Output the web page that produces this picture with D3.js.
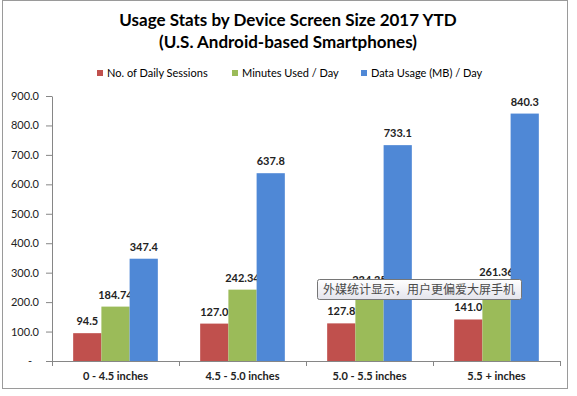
<!DOCTYPE html>
<html>
<head>
<meta charset="utf-8">
<script src="https://cdn.jsdelivr.net/npm/d3@7"></script>
<style>
  html, body { margin: 0; padding: 0; background: #fff; }
  svg { display: block; font-family: Lato, "Open Sans", sans-serif; }
</style>
</head>
<body>
<script>
// chart data
const categories = ["0 - 4.5 inches", "4.5 - 5.0 inches", "5.0 - 5.5 inches", "5.5 + inches"];
const seriesNames = ["No. of Daily Sessions", "Minutes Used / Day", "Data Usage (MB) / Day"];
const dailySessions = [94.5, 127.0, 127.8, 141.0];
const minutesUsed = [184.74, 242.34, 234.35, 261.36];
const dataUsage = [347.4, 637.8, 733.1, 840.3];
const yTicks = [0, 100, 200, 300, 400, 500, 600, 700, 800, 900];
const titleLines = ["Usage Stats by Device Screen Size 2017 YTD", "(U.S. Android-based Smartphones)"];
const tooltipText = "外媒统计显示，用户更偏爱大屏手机";

const W = 577, H = 396;
const colors = ["#C0504D", "#9BBB59", "#4F88D6"];
const formats = [d3.format(".1f"), d3.format(".2f"), d3.format(".1f")];
const series = [dailySessions, minutesUsed, dataUsage];

const svg = d3.select("body").append("svg")
  .attr("width", W).attr("height", H);

// cadre
svg.append("rect")
  .attr("x", 2.5).attr("y", 0.5)
  .attr("width", 565).attr("height", 388)
  .attr("fill", "#fff").attr("stroke", "#9a9a9a");

// titre
svg.append("g").selectAll("text")
  .data(titleLines)
  .join("text")
  .attr("x", 288).attr("y", (d, i) => 26 + i * 22)
  .attr("text-anchor", "middle")
  .attr("font-size", 17).attr("font-weight", "bold")
  .attr("fill", "#000")
  .text(d => d);

// légende
const legendX = [97, 232, 361];
const legend = svg.append("g").selectAll("g")
  .data(seriesNames)
  .join("g")
  .attr("transform", (d, i) => `translate(${legendX[i]},73)`);
legend.append("rect")
  .attr("x", 0).attr("y", -3).attr("width", 6).attr("height", 6)
  .attr("fill", (d, i) => colors[i]);
legend.append("text")
  .attr("x", 10).attr("y", 4)
  .attr("font-size", 11).attr("fill", "#000")
  .text(d => d);

// échelles
const x = d3.scaleBand().domain(categories).range([52, 560]);
const xs = d3.scaleBand().domain(d3.range(3)).range([0, x.bandwidth()]).paddingOuter(0.75);
const y = d3.scaleLinear().domain([0, 900]).range([361, 96]);

// axe Y
const yAxis = svg.append("g")
  .attr("transform", "translate(52,0)")
  .call(d3.axisLeft(y).tickValues(yTicks).tickSize(6).tickPadding(7).tickSizeOuter(0)
    .tickFormat(d => d === 0 ? "-" : d3.format(".1f")(d)));
yAxis.select(".domain").attr("stroke", "#868686");
yAxis.selectAll(".tick line").attr("stroke", "#868686");
yAxis.selectAll("text").attr("font-size", 11).attr("fill", "#222")
  .attr("font-family", "Lato, sans-serif");
yAxis.selectAll(".tick").filter(d => d === 0).select("text").attr("dx", -7);

// barres
const groups = svg.append("g").selectAll("g")
  .data(categories)
  .join("g")
  .attr("transform", d => `translate(${x(d)},0)`);

series.forEach((vals, s) => {
  groups.append("rect")
    .attr("x", xs(s)).attr("width", xs.bandwidth())
    .attr("y", (d, i) => y(vals[i]))
    .attr("height", (d, i) => y(0) - y(vals[i]))
    .attr("fill", colors[s]);
  groups.append("text")
    .attr("x", xs(s) + xs.bandwidth() / 2)
    .attr("y", (d, i) => y(vals[i]) - 8)
    .attr("text-anchor", "middle")
    .attr("font-size", 11).attr("font-weight", "bold")
    .attr("fill", "#222")
    .text((d, i) => formats[s](vals[i]));
});

// axe X
const xAxis = svg.append("g");
xAxis.append("line")
  .attr("x1", 48).attr("x2", 560).attr("y1", 361.5).attr("y2", 361.5)
  .attr("stroke", "#868686");
const bounds = categories.map(c => x(c)).concat([x.range()[1]]);
xAxis.selectAll("line.tk")
  .data(bounds)
  .join("line").attr("class", "tk")
  .attr("x1", d => Math.round(d) + 0.5).attr("x2", d => Math.round(d) + 0.5)
  .attr("y1", 361).attr("y2", 366)
  .attr("stroke", "#868686");
xAxis.selectAll("text")
  .data(categories)
  .join("text")
  .attr("x", d => x(d) + x.bandwidth() / 2)
  .attr("y", 380)
  .attr("text-anchor", "middle")
  .attr("font-size", 11).attr("font-weight", "bold")
  .attr("fill", "#222")
  .text(d => d);

// info-bulle
const tip = svg.append("g").attr("transform", "translate(317,279)");
const grad = svg.append("defs").append("linearGradient")
  .attr("id", "tipgrad").attr("x1", 0).attr("x2", 0).attr("y1", 0).attr("y2", 1);
grad.append("stop").attr("offset", "0%").attr("stop-color", "#ffffff");
grad.append("stop").attr("offset", "100%").attr("stop-color", "#e4e4ec");
tip.append("rect")
  .attr("x", 0.5).attr("y", 0.5).attr("width", 204).attr("height", 20).attr("rx", 2)
  .attr("fill", "url(#tipgrad)").attr("stroke", "#767676");
tip.append("text")
  .attr("x", 102).attr("y", 15)
  .attr("text-anchor", "middle")
  .attr("font-family", "'Noto Sans CJK SC', sans-serif")
  .attr("font-size", 12).attr("fill", "#4a4a4a")
  .text(tooltipText);
</script>
</body>
</html>
